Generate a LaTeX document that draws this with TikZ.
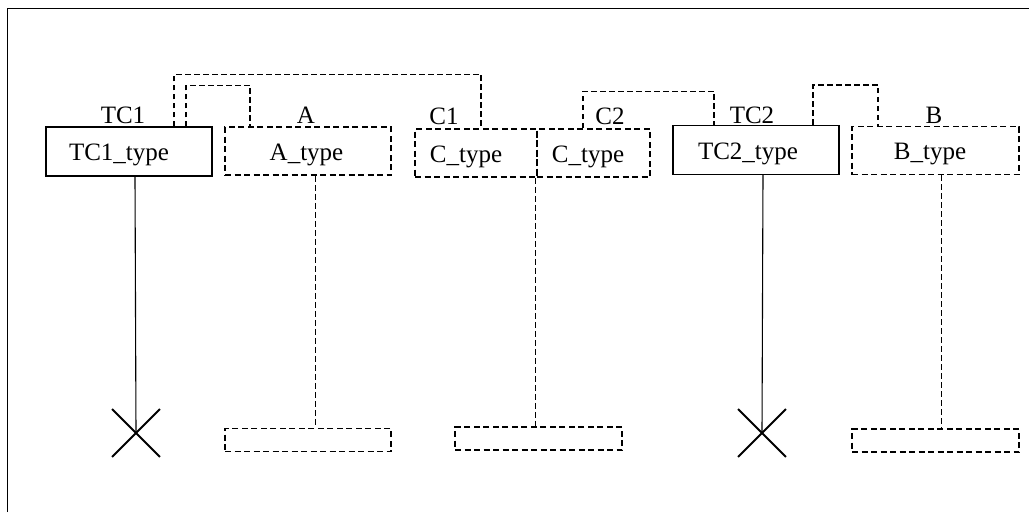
\documentclass[tikz,border=0pt]{standalone}
\usepackage{fontspec}
\setmainfont{Liberation Serif}
\usetikzlibrary{shapes.misc}
\begin{document}
\begin{tikzpicture}[x=1pt,y=1pt,
  font=\fontsize{25}{30}\selectfont,
  boxtext/.style={text height=20pt, text depth=2pt},
  solidbox/.style={draw, line width=1.1pt, minimum height=49, inner sep=0pt, boxtext},
  dashbox/.style={draw, line width=1.8pt, dash pattern=on 6pt off 3.5pt, minimum height=48, inner sep=0pt, boxtext},
  endbox/.style={draw, line width=1.8pt, dash pattern=on 6pt off 3.5pt, minimum height=23, minimum width=166, inner sep=0pt},
  lbl/.style={anchor=base, inner sep=0pt},
  conn/.style={line width=1.2pt, dash pattern=on 5.5pt off 3.5pt},
  life/.style={line width=1pt, dash pattern=on 6pt off 3pt},
  solidlife/.style={line width=1.1pt},
  killx/.style={draw, cross out, line width=1.8pt, minimum size=46, inner sep=0pt}]
\useasboundingbox (0,0) rectangle (1029,-512);
\draw[line width=1pt] (7,-512) -- (7,-8) -- (1029,-8);
% boxes
\node[solidbox, minimum width=166] (TC1) at (129,-151.5) {TC1\_type\hspace*{20pt}};
\node[dashbox, minimum width=166] (A) at (308,-151) {A\_type\hspace*{3pt}};
\node[dashbox, minimum width=122] (C1) at (476,-153) {C\_type\hspace*{20pt}};
\node[dashbox, minimum width=113] (C2) at (593.5,-153) {C\_type\hspace*{11pt}};
\node[solidbox, minimum width=166] (TC2) at (756,-150) {TC2\_type\hspace*{16pt}};
\node[dashbox, minimum width=167] (B) at (935.5,-150.5) {B\_type\hspace*{11pt}};
% labels
\node[lbl] (lTC1) at (123,-123) {TC1};
\node[lbl] (lA) at (306,-123) {A};
\node[lbl] (lC1) at (444,-124) {C1};
\node[lbl] (lC2) at (610,-124) {C2};
\node[lbl] (lTC2) at (752,-123) {TC2};
\node[lbl] (lB) at (934,-123) {B};
% ends
\node[killx] (X1) at (136,-433) {};
\node[endbox] (EA) at (308,-440) {};
\node[endbox, minimum width=167] (EC) at (538.5,-438.5) {};
\node[killx] (X2) at (762,-433) {};
\node[endbox, minimum width=167] (EB) at (935.5,-440.5) {};
% lifelines
\draw[solidlife] ([xshift=6]TC1.south) -- (X1.center);
\draw[life] ([xshift=7]A.south) -- ([xshift=7]A.south |- EA.north);
\draw[life] ([xshift=-2]C1.south east) -- ([xshift=-2]C1.south east |- EC.north);
\draw[solidlife] ([xshift=7]TC2.south) -- (X2.center);
\draw[life] ([xshift=5.5]B.south) -- ([xshift=5.5]B.south |- EB.north);
% connectors
\draw[conn] ([xshift=45]TC1.north) -- ++(0,52) -| ([xshift=5]C1.north);
\draw[conn] ([xshift=57]TC1.north) -- ++(0,41) -| ([xshift=-58]A.north);
\draw[conn] ([xshift=-10.5]C2.north) -- ++(0,37) -| ([xshift=-42]TC2.north);
\draw[conn] ([xshift=57]TC2.north) -- ++(0,40) -| ([xshift=-57.5]B.north);
\end{tikzpicture}
\end{document}
